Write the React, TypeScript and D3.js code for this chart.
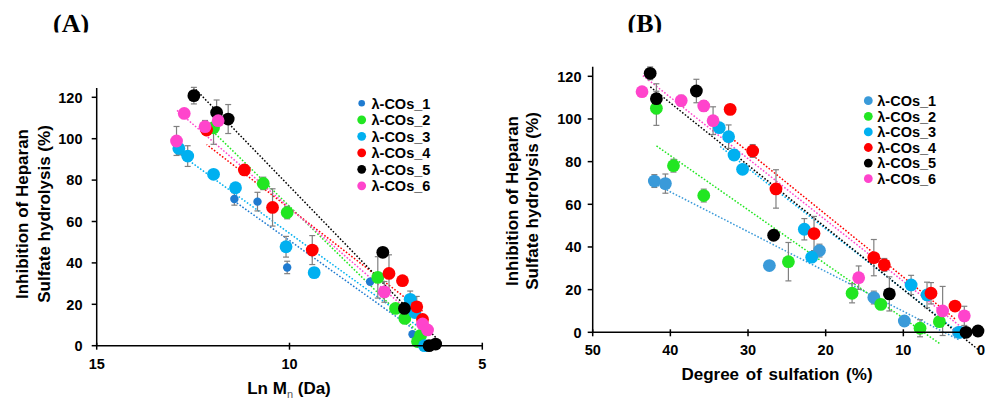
import React from 'react';
import * as d3 from 'd3';

type Pt = [number, number, number]; // [x, y, error]

const seriesNames = ['λ-COs_1', 'λ-COs_2', 'λ-COs_3', 'λ-COs_4', 'λ-COs_5', 'λ-COs_6'];
const colorsA = ['#1f7bd0', '#22e622', '#00b0f0', '#ff0000', '#000000', '#ff44cc'];
const colorsB = ['#3a9ad9', '#22e622', '#00b0f0', '#ff0000', '#000000', '#ff44cc'];

const yTicks = [0, 20, 40, 60, 80, 100, 120];
const xTicksA = [15, 10, 5];
const xTicksB = [50, 40, 30, 20, 10, 0];

// Panel A: Ln Mn (Da) vs inhibition
const A1: Pt[] = [[11.43, 70.9, 3], [10.83, 69.6, 4.5], [10.06, 37.8, 3], [7.91, 30.9, 0], [6.81, 5.5, 0]];
const A2: Pt[] = [[11.97, 105.3, 8], [10.68, 78.4, 3], [10.06, 64.3, 3], [7.71, 33, 10], [7.25, 18, 0], [7.01, 13.2, 0], [6.68, 2, 0], [6.6, 5, 0]];
const A3: Pt[] = [[12.87, 95.3, 3], [12.64, 91.6, 5], [11.97, 82.8, 2], [11.4, 76.3, 0], [10.09, 47.8, 5], [9.36, 35.3, 0], [6.87, 22.4, 4], [6.75, 16, 0], [6.5, 0, 0]];
const A4: Pt[] = [[12.15, 104.2, 0], [11.17, 84.9, 0], [10.44, 66.8, 9], [9.41, 46.2, 7], [7.42, 34.9, 9], [7.07, 31.4, 0], [6.7, 18.8, 5], [6.55, 12.7, 0]];
const A5: Pt[] = [[12.48, 120.8, 4], [11.89, 112.7, 6], [11.59, 109.5, 7], [7.58, 45.1, 0], [7.02, 18, 0], [6.38, 0, 0], [6.21, 0.8, 0]];
const A6: Pt[] = [[12.93, 98.9, 7], [12.73, 112.2, 0], [12.19, 105.8, 3], [11.85, 108.7, 0], [7.54, 26, 5], [6.55, 10.5, 0], [6.42, 7.6, 0]];

// Panel B: degree of sulfation vs inhibition
const B1: Pt[] = [[42.06, 70.9, 3], [40.64, 69.7, 4.5], [27.25, 31.3, 0], [20.8, 38.3, 3], [13.8, 16.3, 3], [9.87, 5.3, 0], [2.9, 0, 0]];
const B2: Pt[] = [[41.8, 105, 8], [39.6, 78.1, 3], [35.7, 64.1, 3], [24.8, 33.1, 9], [16.6, 18.3, 4.5], [12.9, 13.1, 0], [7.85, 1.9, 4], [5.36, 5, 0]];
const B3: Pt[] = [[33.7, 95.9, 0], [32.5, 91.7, 5.5], [31.8, 83.1, 0], [30.7, 76.4, 0], [22.75, 48.3, 5], [21.8, 35.2, 0], [9.0, 22.2, 4.5], [6.95, 17.5, 6], [2.7, 0, 0]];
const B4: Pt[] = [[32.3, 104.5, 0], [29.4, 85, 3], [26.4, 67.2, 9], [21.5, 46.3, 8], [13.8, 35, 8.5], [12.45, 31.6, 3], [6.44, 18.3, 5], [3.35, 12.3, 0]];
const B5: Pt[] = [[42.6, 121.4, 3], [41.8, 109.5, 7], [36.65, 113.1, 5.5], [26.7, 45.5, 0], [11.8, 18, 8], [1.93, 0, 0], [0.39, 0.6, 0]];
const B6: Pt[] = [[43.65, 112.8, 0], [38.6, 108.6, 2.5], [35.7, 106.1, 2.5], [34.5, 99.2, 6.5], [15.75, 25.6, 5.5], [4.94, 10, 11.5], [2.15, 7.7, 4.5]];

const seriesA = [A1, A2, A3, A4, A5, A6];
const seriesB = [B1, B2, B3, B4, B5, B6];

const FONT = "'Liberation Sans', Arial, sans-serif";

function fit(pts: Pt[]) {
  const mx = d3.mean(pts, (p) => p[0])!;
  const my = d3.mean(pts, (p) => p[1])!;
  let sxy = 0, sxx = 0;
  pts.forEach((p) => { sxy += (p[0] - mx) * (p[1] - my); sxx += (p[0] - mx) ** 2; });
  const b = sxy / sxx;
  const a = my - b * mx;
  const [x0, x1] = d3.extent(pts, (p) => p[0]) as [number, number];
  return { a, b, x0, x1 };
}

interface PanelProps {
  series: Pt[][];
  colors: string[];
  radii: number[];
  legendRadii: number[];
  x: d3.ScaleLinear<number, number>;
  y: d3.ScaleLinear<number, number>;
  yTop: number;
  xTicks: number[];
  yTickRight: number;
  xTickBaseline: number;
  legendX: number;
  legendY: number;
  legendStep: number;
  legendTextX: number;
  yTitleX1: number;
  yTitleX2: number;
  yTitleY: number;
  xTitle: React.ReactNode;
}

function Panel(p: PanelProps) {
  const { x, y } = p;
  const x0 = x.range()[0];
  const x1 = x.range()[1];
  const y0 = y(0);
  const line = d3.line<[number, number]>().x((d) => x(d[0])).y((d) => y(d[1]));
  return (
    <g>
      {/* trend lines */}
      {p.series.map((s, i) => {
        const f = fit(s);
        const pts: [number, number][] = [[f.x0, f.a + f.b * f.x0], [f.x1, f.a + f.b * f.x1]];
        return (
          <path key={'t' + i} d={line(pts) || ''} stroke={p.colors[i]} strokeWidth={1.5}
            strokeDasharray="1.6 1.8" fill="none" />
        );
      })}
      {/* error bars */}
      {p.series.map((s, i) => (
        <g key={'e' + i} stroke="#808080" strokeWidth={1.2}>
          {s.filter((d) => d[2] > 0).map((d, j) => (
            <g key={j}>
              <line x1={x(d[0])} x2={x(d[0])} y1={y(d[1] - d[2])} y2={y(d[1] + d[2])} />
              <line x1={x(d[0]) - 3} x2={x(d[0]) + 3} y1={y(d[1] - d[2])} y2={y(d[1] - d[2])} />
              <line x1={x(d[0]) - 3} x2={x(d[0]) + 3} y1={y(d[1] + d[2])} y2={y(d[1] + d[2])} />
            </g>
          ))}
        </g>
      ))}
      {/* markers */}
      {p.series.map((s, i) => (
        <g key={'m' + i} fill={p.colors[i]}>
          {s.map((d, j) => (
            <circle key={j} cx={x(d[0])} cy={y(d[1])} r={p.radii[i]} />
          ))}
        </g>
      ))}
      {/* axes */}
      <g stroke="#000" strokeWidth={1.5}>
        <line x1={x0} x2={x0} y1={p.yTop} y2={y0} />
        <line x1={x0} x2={x1} y1={y0} y2={y0} />
        {yTicks.map((t) => (
          <line key={'yt' + t} x1={x0 - 5} x2={x0} y1={y(t)} y2={y(t)} />
        ))}
        {p.xTicks.map((t) => (
          <line key={'xt' + t} x1={x(t)} x2={x(t)} y1={y0 - 3} y2={y0 + 4} />
        ))}
      </g>
      <g fontFamily={FONT} fontWeight="bold" fontSize={14.5} fill="#000">
        {yTicks.map((t) => (
          <text key={'yl' + t} x={p.yTickRight} y={y(t)} dy="0.36em" textAnchor="end">{t}</text>
        ))}
        {p.xTicks.map((t) => (
          <text key={'xl' + t} x={x(t)} y={p.xTickBaseline} textAnchor="middle">{t}</text>
        ))}
      </g>
      {/* axis titles */}
      <g fontFamily={FONT} fontWeight="bold" fontSize={17} fill="#000" textAnchor="middle">
        <text transform={`translate(${p.yTitleX1},${p.yTitleY}) rotate(-90)`}>Inhibition of Heparan</text>
        <text transform={`translate(${p.yTitleX2},${p.yTitleY}) rotate(-90)`}>Sulfate hydrolysis (%)</text>
        {p.xTitle}
      </g>
      {/* legend */}
      <g fontFamily={FONT} fontWeight="bold" fontSize={14.5} fill="#000">
        {seriesNames.map((nm, i) => (
          <g key={'lg' + i}>
            <circle cx={p.legendX} cy={p.legendY + i * p.legendStep} r={p.legendRadii[i]} fill={p.colors[i]} />
            <text x={p.legendTextX} y={p.legendY + i * p.legendStep} dy="0.36em">{nm}</text>
          </g>
        ))}
      </g>
    </g>
  );
}

export default function App() {
  const xA = d3.scaleLinear().domain([15, 5]).range([96.7, 482.3]);
  const yA = d3.scaleLinear().domain([0, 120]).range([345.7, 97.3]);
  const xB = d3.scaleLinear().domain([50, 0]).range([592.7, 981]);
  const yB = d3.scaleLinear().domain([0, 120]).range([332.3, 76.3]);
  return (
    <svg width={996} height={400} style={{ position: 'absolute', left: 0, top: 0, background: '#fff' }}>
      <rect x={0} y={0} width={996} height={400} fill="#fff" />
      <defs>
        <clipPath id="titleClip"><rect x={0} y={0} width={996} height={32.5} /></clipPath>
      </defs>
      <g clipPath="url(#titleClip)" fontFamily="'Liberation Serif', 'DejaVu Serif', serif" fontWeight="bold" fontSize={26}>
        <text x={53} y={32}>(A)</text>
        <text x={627.5} y={32}>(B)</text>
      </g>
      <Panel
        series={seriesA} colors={colorsA} radii={[4.2, 6.4, 6.4, 6.4, 6.4, 6.4]}
        legendRadii={[3.3, 4.4, 4.4, 4.4, 4.4, 4.4]}
        x={xA} y={yA} yTop={88} xTicks={xTicksA} yTickRight={82.5} xTickBaseline={368.5}
        legendX={361.7} legendY={103.3} legendStep={16.5} legendTextX={371.5}
        yTitleX1={27.5} yTitleX2={50} yTitleY={214}
        xTitle={
          <text x={289} y={393.5}>Ln M<tspan fontSize={11} fontWeight="normal" fill="#555" dy={4}>n</tspan><tspan dy={-4}> (Da)</tspan></text>
        }
      />
      <Panel
        series={seriesB} colors={colorsB} radii={[6.4, 6.4, 6.4, 6.4, 6.4, 6.4]}
        legendRadii={[4.4, 4.4, 4.4, 4.4, 4.4, 4.4]}
        x={xB} y={yB} yTop={66.7} xTicks={xTicksB} yTickRight={581.5} xTickBaseline={355}
        legendX={868.3} legendY={100.7} legendStep={15.6} legendTextX={877.3}
        yTitleX1={517.5} yTitleX2={538} yTitleY={201}
        xTitle={<text x={777} y={380} wordSpacing={2}>Degree of sulfation (%)</text>}
      />
    </svg>
  );
}
